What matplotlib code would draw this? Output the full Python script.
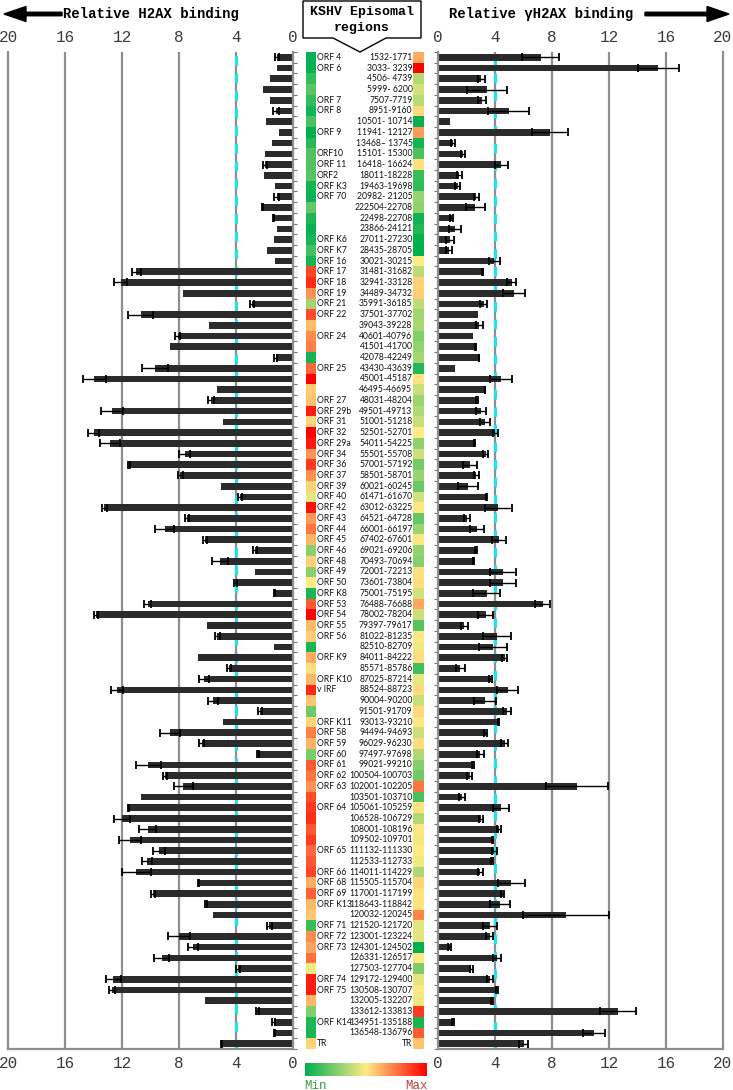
import numpy as np
import matplotlib
matplotlib.use('Agg')
import matplotlib.pyplot as plt
from matplotlib.colors import LinearSegmentedColormap, TwoSlopeNorm
from matplotlib.patches import Polygon, FancyArrow

# ---------------- data ----------------
orf_labels = [
    "ORF 4", "ORF 6", "", "", "ORF 7", "ORF 8", "", "ORF 9", "", "ORF10",
    "ORF 11", "ORF2", "ORF K3", "ORF 70", "", "", "", "ORF K6", "ORF K7", "ORF 16",
    "ORF 17", "ORF 18", "ORF 19", "ORF 21", "ORF 22", "", "ORF 24", "", "", "ORF 25",
    "", "", "ORF 27", "ORF 29b", "ORF 31", "ORF 32", "ORF 29a", "ORF 34", "ORF 36", "ORF 37",
    "ORF 39", "ORF 40", "ORF 42", "ORF 43", "ORF 44", "ORF 45", "ORF 46", "ORF 48", "ORF 49", "ORF 50",
    "ORF K8", "ORF 53", "ORF 54", "ORF 55", "ORF 56", "", "ORF K9", "", "ORF K10", "v IRF",
    "", "", "ORF K11", "ORF 58", "ORF 59", "ORF 60", "ORF 61", "ORF 62", "ORF 63", "",
    "ORF 64", "", "", "", "ORF 65", "", "ORF 66", "ORF 68", "ORF 69", "ORF K13",
    "", "ORF 71", "ORF 72", "ORF 73", "", "", "ORF 74", "ORF 75", "", "",
    "ORF K14", "", "TR",
]
regions = [
    "1532-1771", "3033- 3239", "4506- 4739", "5999- 6200", "7507-7719", "8951-9160",
    "10501- 10714", "11941- 12127", "13468\u2013 13745", "15101- 15300", "16418- 16624",
    "18011-18228", "19463-19698", "20982- 21205", "222504-22708", "22498-22708",
    "23866-24121", "27011-27230", "28435-28705", "30021-30215", "31481-31682",
    "32941-33128", "34489-34732", "35991-36185", "37501-37702", "39043-39228",
    "40601-40796", "41501-41700", "42078-42249", "43430-43639", "45001-45187",
    "46495-46695", "48031-48204", "49501-49713", "51001-51218", "52501-52701",
    "54011-54225", "55501-55708", "57001-57192", "58501-58701", "60021-60245",
    "61471-61670", "63012-63225", "64521-64728", "66001-66197", "67402-67601",
    "69021-69206", "70493-70694", "72001-72213", "73601-73804", "75001-75195",
    "76488-76688", "78002-78204", "79397-79617", "81022-81235", "82510-82709",
    "84011-84222", "85571-85786", "87025-87214", "88524-88723", "90004-90200",
    "91501-91709", "93013-93210", "94494-94693", "96029-96230", "97497-97698",
    "99021-99210", "100504-100703", "102001-102205", "103501-103710", "105061-105259",
    "106528-106729", "108001-108196", "109502-109701", "111132-111330", "112533-112733",
    "114011-114229", "115505-115704", "117001-117199", "118643-118842", "120032-120245",
    "121520-121720", "123001-123224", "124301-124502", "126331-126517", "127503-127704",
    "129172-129400", "130508-130707", "132005-132207", "133612-133813", "134951-135188",
    "136548-136796", "TR",
]
h2ax = [
    1.1, 1.1, 1.6, 2.1, 1.6, 1.2, 1.9, 1.0, 1.45, 1.95,
    1.95, 2.05, 1.25, 1.15, 2.15, 1.35, 1.1, 1.3, 1.8, 1.25,
    11.0, 12.1, 7.7, 2.9, 10.7, 5.9, 8.1, 8.65, 1.2, 9.7,
    13.95, 5.35, 5.75, 12.7, 4.9, 14.0, 12.85, 7.6, 11.5, 7.9,
    5.05, 3.7, 13.25, 7.45, 9.0, 6.2, 2.65, 5.1, 2.65, 4.05,
    1.3, 10.2, 13.8, 6.05, 5.3, 1.3, 6.65, 4.5, 6.25, 12.35,
    5.6, 2.3, 4.9, 8.6, 6.4, 2.45, 10.15, 9.0, 7.7, 10.65,
    11.55, 12.0, 10.2, 11.45, 9.4, 10.25, 11.0, 6.65, 9.8, 6.1,
    5.6, 1.65, 8.0, 7.0, 9.2, 3.85, 12.6, 12.7, 6.2, 2.5,
    1.35, 1.3, 5.0,
]
h2ax_err = [
    0.15, 0, 0, 0, 0, 0.2, 0, 0, 0, 0,
    0.15, 0, 0, 0.15, 0.05, 0.05, 0, 0, 0, 0,
    0.3, 0.45, 0, 0.15, 0.9, 0, 0.15, 0, 0.1, 0.9,
    0.8, 0, 0.2, 0.8, 0, 0.42, 0.72, 0.37, 0.05, 0.17,
    0, 0.13, 0.18, 0.15, 0.65, 0.15, 0.15, 0.55, 0, 0.1,
    0.05, 0.25, 0.15, 0, 0.2, 0, 0, 0.15, 0.35, 0.45,
    0.33, 0.15, 0, 0.7, 0.17, 0.05, 0.9, 0.15, 0.65, 0,
    0.05, 0.55, 0.6, 0.75, 0.45, 0.36, 1.0, 0.05, 0.13, 0.05,
    0, 0.2, 0.8, 0.35, 0.53, 0.13, 0.55, 0.2, 0, 0.1,
    0.1, 0.05, 0.05,
]
gh2ax = [
    7.2, 15.45, 3.05, 3.45, 3.1, 4.95, 0.85, 7.85, 1.05, 1.75,
    4.45, 1.5, 1.38, 2.7, 2.62, 0.96, 1.2, 0.84, 0.77, 3.96,
    3.15, 5.17, 5.35, 3.2, 2.8, 2.9, 2.43, 2.65, 2.88, 1.2,
    4.42, 3.3, 2.75, 3.0, 3.3, 4.03, 2.57, 3.35, 2.25, 2.7,
    2.13, 3.42, 4.24, 2.03, 2.74, 4.3, 2.65, 2.48, 4.57, 4.57,
    3.42, 7.35, 3.35, 1.85, 4.15, 3.84, 4.68, 1.57, 3.7, 4.89,
    3.3, 4.85, 4.23, 3.35, 4.68, 2.97, 2.46, 2.22, 9.75, 1.7,
    4.42, 3.02, 4.27, 3.8, 3.95, 3.8, 2.97, 5.13, 4.53, 4.36,
    8.97, 3.65, 3.63, 0.82, 4.14, 2.34, 3.65, 4.14, 3.8, 12.63,
    1.05, 10.97, 6.0,
]
gh2ax_err = [
    1.3, 1.45, 0.25, 1.4, 0.27, 1.45, 0, 1.28, 0.13, 0.15,
    0.45, 0.2, 0.17, 0.18, 0.65, 0.1, 0.42, 0.3, 0.19, 0.39,
    0.03, 0.33, 0.78, 0.23, 0, 0.26, 0, 0.03, 0.03, 0,
    0.8, 0.03, 0.05, 0.36, 0.33, 0.17, 0.03, 0.19, 0.5, 0.16,
    0.7, 0.05, 0.92, 0.21, 0.5, 0.5, 0.08, 0.03, 0.9, 0.9,
    0.95, 0.54, 0.53, 0.27, 0.97, 0.98, 0.19, 0.33, 0.1, 0.75,
    0.74, 0.27, 0.05, 0.12, 0.26, 0.26, 0.1, 0.16, 2.18, 0.22,
    0.56, 0.14, 0.15, 0.03, 0.16, 0.05, 0.18, 0.95, 0.08, 0.7,
    3.0, 0.47, 0.25, 0.09, 0.28, 0.12, 0.2, 0.05, 0.05, 1.23,
    0.05, 0.76, 0.3,
]
x_ticks = [0, 4, 8, 12, 16, 20]
threshold = 4

# ---------------- layout helpers ----------------
W, H = 733, 1090
fig = plt.figure(figsize=(W / 100, H / 100), dpi=100)
fig.patch.set_facecolor('white')


def rect(x0, y0, x1, y1):
    return [x0 / W, 1 - y1 / H, (x1 - x0) / W, (y1 - y0) / H]


n = len(regions)
ypos = np.arange(n)
GRID = '#8e8e8e'
MONO = 'Liberation Mono'
SANS = 'Lato'

cmap = LinearSegmentedColormap.from_list('heat', ['#00b050', '#ffeb84', '#ff0000'])

axL = fig.add_axes(rect(8, 52, 293, 1049))
axR = fig.add_axes(rect(438, 52, 723, 1049))
axM = fig.add_axes(rect(293, 52, 438, 1049))


def style_panel(ax, vals, errs, left):
    ax.set_ylim(n - 0.5, -0.5)
    if left:
        ax.set_xlim(20, 0)
    else:
        ax.set_xlim(0, 20)
    ax.set_xticks(x_ticks)
    ax.tick_params(axis='x', length=0, top=True, labeltop=True, bottom=True,
                   labelbottom=True, pad=5, labelsize=11.5, labelcolor='#3a3a3a')
    for lab in ax.get_xticklabels():
        lab.set_fontfamily(MONO)
    ax.set_yticks(np.arange(n + 1) - 0.5)
    ax.set_yticklabels([])
    ax.tick_params(axis='y', length=3, width=0.8, color='#777777')
    if left:
        ax.yaxis.tick_right()
    else:
        ax.yaxis.tick_left()
    for v in x_ticks[1:-1]:
        ax.axvline(v, color=GRID, lw=1.6, zorder=0)
    for s in ['left', 'right', 'bottom']:
        ax.spines[s].set_color(GRID)
        ax.spines[s].set_linewidth(1.6)
    ax.spines['top'].set_visible(False)
    ax.axvline(threshold, color='#22e0f0', lw=2.3, ls=(0, (3, 2.5)), zorder=1)
    ax.barh(ypos, vals, height=0.62, color='#2b2b2b', zorder=2)
    v = np.array(vals)
    e = np.array(errs)
    m = e > 0
    ax.errorbar(v[m], ypos[m], xerr=e[m], fmt='none', ecolor='black',
                elinewidth=1.0, capsize=2.6, capthick=1.3, zorder=3)


style_panel(axL, h2ax, h2ax_err, True)
style_panel(axR, gh2ax, gh2ax_err, False)

# ---------------- middle heat columns & labels ----------------
axM.set_xlim(293, 438)
axM.set_ylim(n - 0.5, -0.5)
axM.axis('off')
normL = TwoSlopeNorm(vmin=min(h2ax), vcenter=threshold, vmax=max(h2ax))
normR = TwoSlopeNorm(vmin=min(gh2ax), vcenter=threshold, vmax=max(gh2ax))
axM.barh(ypos, 10, left=306, height=1.0, color=cmap(normL(np.array(h2ax))), lw=0)
axM.barh(ypos, 11, left=413, height=1.0, color=cmap(normR(np.array(gh2ax))), lw=0)
for i in range(n):
    if orf_labels[i]:
        axM.text(317, i, orf_labels[i], ha='left', va='center', fontsize=6.2,
                 fontfamily=SANS, color='#111111')
    axM.text(412.5, i, regions[i], ha='right', va='center', fontsize=6.2,
             fontfamily=SANS, color='#111111')

# ---------------- overlay: header, arrows, callout, colour key ----------------
axO = fig.add_axes([0, 0, 1, 1])
axO.set_xlim(0, W)
axO.set_ylim(H, 0)
axO.axis('off')
axO.patch.set_alpha(0)

axO.add_patch(FancyArrow(62, 14, -58, 0, width=3.5, head_width=15, head_length=22,
                         length_includes_head=True, color='black'))
axO.add_patch(FancyArrow(645, 14, 84, 0, width=3.5, head_width=15, head_length=22,
                         length_includes_head=True, color='black'))
axO.text(151, 14, 'Relative H2AX binding', ha='center', va='center',
         fontfamily=MONO, fontweight='bold', fontsize=10)
axO.text(541, 14, 'Relative \u03b3H2AX binding', ha='center', va='center',
         fontfamily=MONO, fontweight='bold', fontsize=10)

callout = Polygon([(303, 1), (421, 1), (421, 38), (386, 38), (360, 52),
                   (333, 38), (303, 38)], closed=True, facecolor='white',
                  edgecolor='black', lw=1.0)
axO.add_patch(callout)
axO.text(362, 12, 'KSHV Episomal', ha='center', va='center', fontfamily=MONO,
         fontweight='bold', fontsize=9.5)
axO.text(362, 28, 'regions', ha='center', va='center', fontfamily=MONO,
         fontweight='bold', fontsize=9.5)

axC = fig.add_axes(rect(305, 1063, 426, 1076))
axC.imshow(np.linspace(0, 1, 256)[None, :], cmap=cmap, aspect='auto')
axC.axis('off')
axO.text(304, 1086, 'Min', ha='left', va='center', fontfamily=MONO, fontsize=9,
         color='#3f9a45')
axO.text(428, 1086, 'Max', ha='right', va='center', fontfamily=MONO, fontsize=9,
         color='#c0393b')

fig.savefig('out.png', dpi=100)
